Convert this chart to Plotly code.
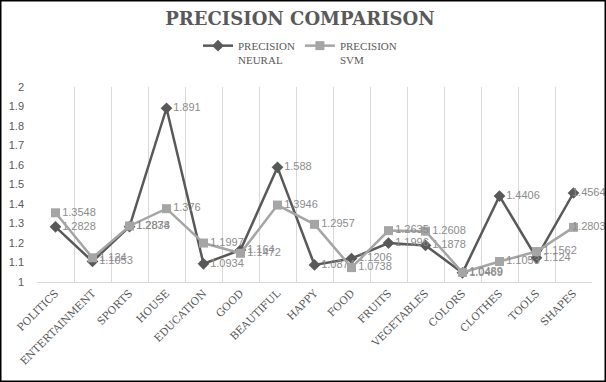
import plotly.graph_objects as go

categories = ["POLITICS", "ENTERTAINMENT", "SPORTS", "HOUSE", "EDUCATION", "GOOD",
              "BEAUTIFUL", "HAPPY", "FOOD", "FRUITS", "VEGETABLES", "COLORS",
              "CLOTHES", "TOOLS", "SHAPES"]
neural = [1.2828, 1.1053, 1.2838, 1.891, 1.0934, 1.164, 1.588, 1.0874, 1.1206,
          1.1996, 1.1878, 1.0469, 1.4406, 1.124, 1.4564]
svm = [1.3548, 1.124, 1.2874, 1.376, 1.1997, 1.1472, 1.3946, 1.2957, 1.0738,
       1.2635, 1.2608, 1.0489, 1.1053, 1.1562, 1.2803]
y_ticks = [1, 1.1, 1.2, 1.3, 1.4, 1.5, 1.6, 1.7, 1.8, 1.9, 2]
y_tick_text = ["1", "1.1", "1.2", "1.3", "1.4", "1.5", "1.6", "1.7", "1.8", "1.9", "2"]

W, H = 606, 382
L, R, T, B = 37, 14, 87, 100
PW, PH = W - L - R, H - T - B

label_font = dict(family="Liberation Sans", size=11, color="#8c8c8c")
PAD = "\u2007" * 5


def labels(vals):
    # last label is pulled left (as the source chart does) so it stays inside the frame
    txt = [str(v) for v in vals]
    txt[-1] = PAD + txt[-1]
    pos = ["middle right"] * len(vals)
    pos[-1] = "middle center"
    return txt, pos


nt, npos = labels(neural)
st, spos = labels(svm)

fig = go.Figure()
fig.add_trace(go.Scatter(
    x=categories, y=neural, name="PRECISION<br>NEURAL",
    mode="lines+markers+text", cliponaxis=False,
    line=dict(color="#595959", width=2.5),
    marker=dict(symbol="diamond", size=9, color="#595959"),
    text=nt, textposition=npos, textfont=label_font,
))
fig.add_trace(go.Scatter(
    x=categories, y=svm, name="PRECISION<br>SVM",
    mode="lines+markers+text", cliponaxis=False,
    line=dict(color="#a5a5a5", width=2.5),
    marker=dict(symbol="square", size=9, color="#a5a5a5"),
    text=st, textposition=spos, textfont=label_font,
))

fig.update_layout(
    width=W, height=H,
    margin=dict(l=L, r=R, t=T, b=B, autoexpand=False),
    paper_bgcolor="white", plot_bgcolor="white",
    title=dict(text="<b>PRECISION COMPARISON</b>", x=300 / W, xanchor="center",
               xref="container", y=1 - 19 / H, yanchor="middle",
               font=dict(family="DejaVu Serif", size=18, color="#595959")),
    legend=dict(orientation="h", x=(300 - L) / PW, xanchor="center",
                y=1 + 34 / PH, yanchor="middle", valign="top",
                font=dict(family="Liberation Serif", size=11, color="#595959"),
                itemwidth=30, tracegroupgap=0),
    showlegend=True,
    xaxis=dict(type="category", range=[-0.5, 14.5], tickson="boundaries",
               automargin=False,
               showgrid=True, gridcolor="#d9d9d9", gridwidth=1,
               showline=True, linecolor="#d9d9d9", linewidth=1,
               ticks="", tickangle=-45,
               tickfont=dict(family="DejaVu Serif", size=10.5, color="#595959")),
    yaxis=dict(range=[1, 2], tickvals=y_ticks, ticktext=y_tick_text,
               automargin=False,
               showgrid=False, zeroline=False, showline=False, ticks="",
               ticklabelstandoff=12,
               tickfont=dict(family="Liberation Sans", size=11, color="#595959")),
    shapes=[dict(type="rect", xref="paper", yref="paper",
                 x0=-(L - 0.75) / PW,
                 x1=1 + (R - 0.75) / PW,
                 y0=-(B - 0.75) / PH,
                 y1=1 + (T - 0.75) / PH,
                 line=dict(color="black", width=1.5))],
)

fig.write_html("out.html",
               config={"displayModeBar": False},
               post_script="document.body.style.margin='0';document.body.style.overflow='hidden';")
